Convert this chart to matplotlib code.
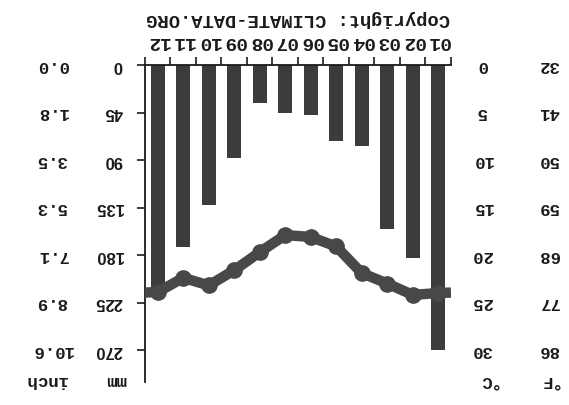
import matplotlib.pyplot as plt
import numpy as np
from matplotlib.transforms import blended_transform_factory

# climate chart, drawn upside down like the scanned reference
months = ["01", "02", "03", "04", "05", "06", "07", "08", "09", "10", "11", "12"]
precip_mm = [270, 183, 155, 77, 72, 47, 45, 36, 88, 133, 172, 218]
temp_c = [24.0, 24.2, 23.0, 21.9, 19.1, 18.1, 17.9, 19.7, 21.6, 23.2, 22.4, 23.9]

mm_ticks = [0, 45, 90, 135, 180, 225, 270]
inch_labels = ["0.0", "1.8", "3.5", "5.3", "7.1", "8.9", "10.6"]
c_ticks = [0, 5, 10, 15, 20, 25, 30]
f_labels = ["32", "41", "50", "59", "68", "77", "86"]

plt.rcParams["font.family"] = "Liberation Mono"
ink = "#1a1a1a"
bar_col = "#3c3c3c"
line_col = "#484848"

fig = plt.figure(figsize=(5.69, 4.05), dpi=100)
ax = fig.add_axes([0.2548, 0.0575, 0.5378, 0.782])

x = np.arange(1, 13)
ax.bar(x, precip_mm, width=0.55, color=bar_col, zorder=2)
ax.set_xlim(12.5, 0.5)
ax.set_ylim(300, 0)

for s in ["right", "bottom"]:
    ax.spines[s].set_visible(False)
for s in ["left", "top"]:
    ax.spines[s].set_linewidth(1.3)
    ax.spines[s].set_color(ink)

# month labels along the zero line
ax.xaxis.tick_top()
ax.set_xticks(x)
ax.set_xticklabels(months, rotation=180, fontsize=14, fontweight="bold", color=ink)
ax.set_xticks(np.arange(0.5, 13, 1), minor=True)
ax.tick_params(axis="x", which="major", length=0, pad=11)
ax.tick_params(axis="x", which="minor", length=6, width=1.2, color=ink, top=True, bottom=False)

# mm axis
ax.set_yticks(mm_ticks)
ax.set_yticklabels([str(v) for v in mm_ticks], rotation=180, fontsize=12,
                   fontweight="bold", family="Liberation Sans", color=ink, va="center")
ax.tick_params(axis="y", length=6, width=1.2, color=ink, pad=10)

# temperature on the twin axis (1 degC = 9 mm)
ax2 = ax.twinx()
ax2.set_ylim(300 / 9, 0)
for s in ax2.spines.values():
    s.set_visible(False)
ax2.set_yticks([])
edge = (temp_c[0] + temp_c[-1]) / 2
tx = np.r_[0.5, x, 12.5]
ty = np.r_[edge, temp_c, edge]
ax2.plot(tx, ty, color=line_col, lw=7.5, solid_capstyle="butt", zorder=3)
ax2.plot(x, temp_c, "o", color=line_col, ms=11, zorder=3)

# side labels
tr_mm = blended_transform_factory(fig.transFigure, ax.transData)
tr_c = blended_transform_factory(fig.transFigure, ax2.transData)
lab = dict(rotation=180, ha="center", va="center", fontsize=12.5, fontweight="bold", color=ink)
for v, t in zip(mm_ticks, inch_labels):
    ax.text(52 / 569, v, t, transform=tr_mm, **lab)
for v, t in zip(c_ticks, f_labels):
    ax2.text(549 / 569, v, t, transform=tr_c, **lab)
for v in c_ticks:
    ax2.text(482 / 569, v, str(v), transform=tr_c, **lab)

# unit headers
hy = 1 - 380 / 405
fig.text(46 / 569, hy, "inch", **lab)
fig.text(116 / 569, hy, "mm", **lab)
fig.text(487 / 569, hy, "°C", **lab)
fig.text(548 / 569, hy, "°F", **lab)

fig.text(298 / 569, 1 - 19 / 405, "Copyright: CLIMATE-DATA.ORG", rotation=180,
         ha="center", va="center", fontsize=13.5, fontweight="bold", color=ink)

fig.savefig("out.png", dpi=100, facecolor="white")
